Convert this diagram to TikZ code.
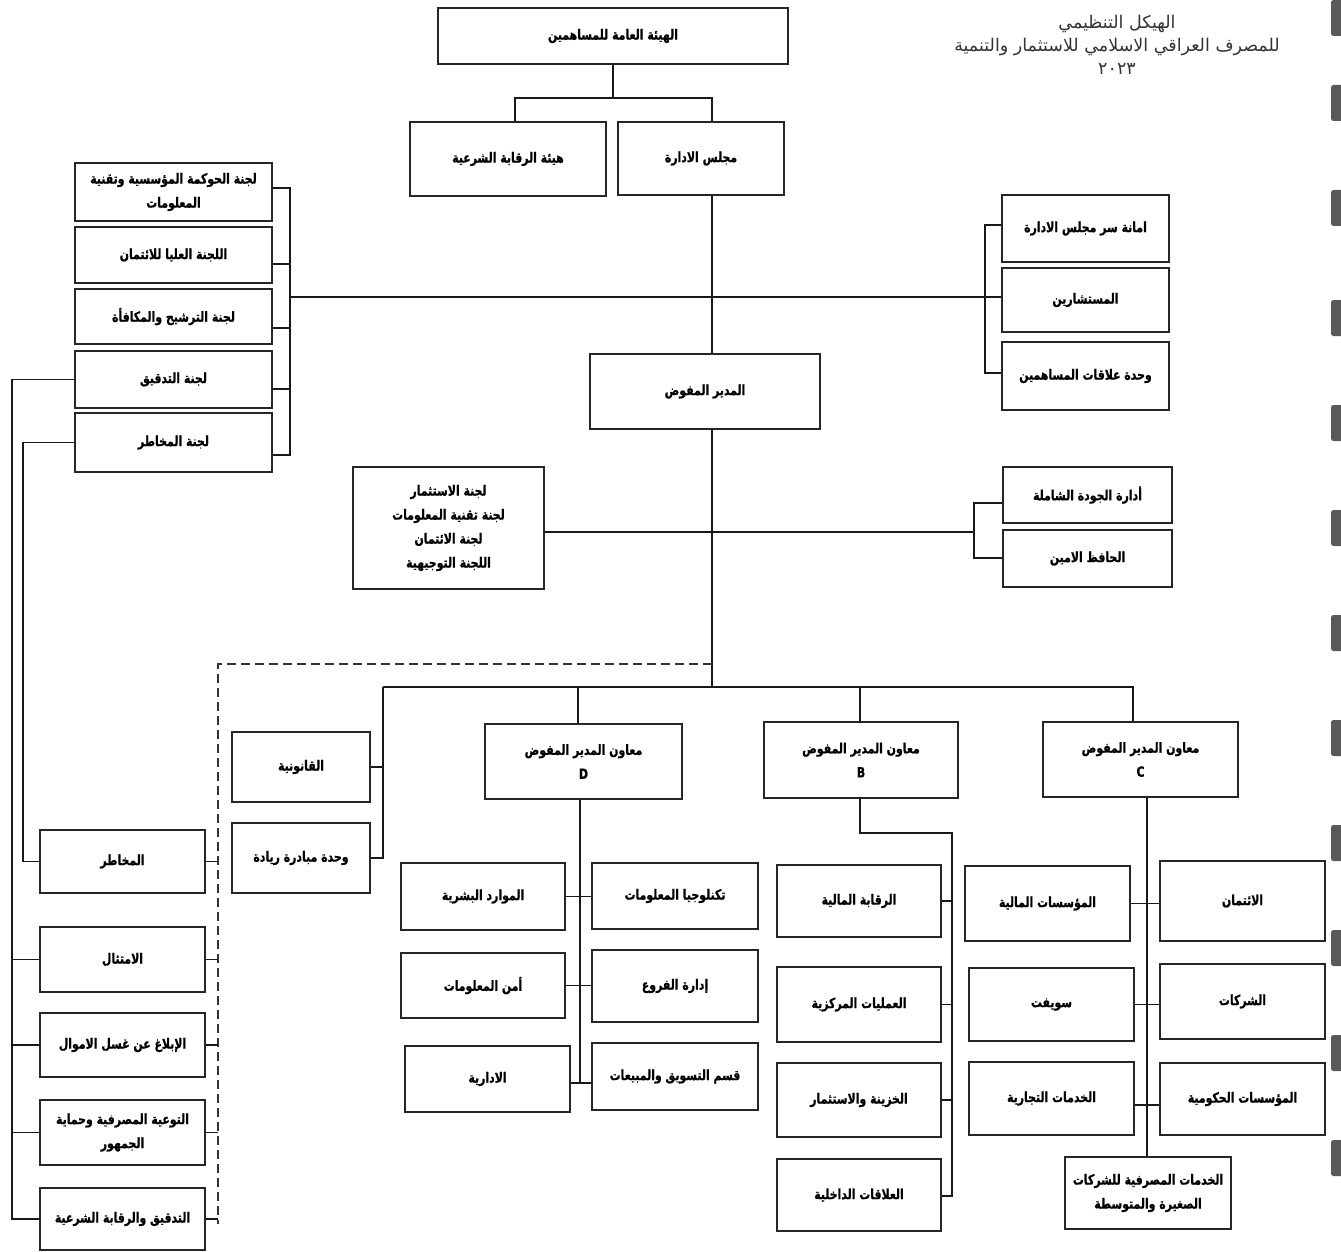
\documentclass[tikz,border=0pt]{standalone}
\usepackage{fontspec}
\newfontfamily\arabicfont[Script=Arabic, FakeStretch=0.78, BoldFeatures={FakeBold=0.8}]{DejaVu Sans}
\newfontfamily\titlefont[Script=Arabic]{DejaVu Sans}
\TeXXeTstate=1
\newcommand\AR[1]{\beginR #1\endR}
\tikzset{
  box/.style={draw=black!85, line width=1.7pt, fill=white, align=center, inner sep=2pt,
              font=\arabicfont\bfseries\fontsize{14}{24}\selectfont},
  wire/.style={draw=black!90, line width=1.4pt},
  dashwire/.style={draw=black!80, line width=1.5pt, dash pattern=on 9pt off 5pt},
  tab/.style={fill=black!65, rounded corners=2.5pt}
}
\newcommand\BX[6]{\node[box, minimum width={(#4)-(#2)}, minimum height={(#5)-(#3)}] (#1) at ({((#2)+(#4))/2},{((#3)+(#5))/2}) {#6};}
\begin{document}
\begin{tikzpicture}[x=1pt,y=-1pt]
\useasboundingbox (0,0) rectangle (1341,1252);
\fill[white] (0,0) rectangle (1341,1252);
% binder tabs at right edge
\foreach \t in {0,85,190,300,405,510,615,720,825,930,1035,1140}
  \fill[tab] (1331,\t) rectangle (1348,\t+36);
% title
\node[font=\titlefont\fontsize{17.5}{23}\selectfont, text=black!80, align=center] (title) at (1117,45)
  {\AR{الهيكل التنظيمي}\\\AR{للمصرف العراقي الاسلامي للاستثمار والتنمية}\\\AR{٢٠٢٣}};
% top
\BX{top}{438}{8}{788}{64}{\AR{الهيئة العامة للمساهمين}}
\BX{shar}{410}{122}{606}{196}{\AR{هيئة الرقابة الشرعية}}
\BX{board}{618}{122}{784}{195}{\AR{مجلس الادارة}}
% left committees
\BX{ca}{75}{163}{272}{221}{\AR{لجنة الحوكمة المؤسسية وتقنية}\\\AR{المعلومات}}
\BX{cb}{75}{227}{272}{283}{\AR{اللجنة العليا للائتمان}}
\BX{cc}{75}{289}{272}{344}{\AR{لجنة الترشيح والمكافأة}}
\BX{cd}{75}{351}{272}{408}{\AR{لجنة التدقيق}}
\BX{ce}{75}{413}{272}{472}{\AR{لجنة المخاطر}}
% right group
\BX{ra}{1002}{195}{1169}{262}{\AR{امانة سر مجلس الادارة}}
\BX{rb}{1002}{268}{1169}{332}{\AR{المستشارين}}
\BX{rc}{1002}{342}{1169}{410}{\AR{وحدة علاقات المساهمين}}
% CEO
\BX{md}{590}{354}{820}{429}{\AR{المدير المفوض}}
\BX{comm}{353}{467}{544}{589}{\AR{لجنة الاستثمار}\\\AR{لجنة تقنية المعلومات}\\\AR{لجنة الائتمان}\\\AR{اللجنة التوجيهية}}
\BX{qual}{1003}{467}{1172}{523}{\AR{أدارة الجودة الشاملة}}
\BX{cust}{1003}{530}{1172}{587}{\AR{الحافظ الامين}}
% deputies
\BX{legal}{232}{732}{370}{802}{\AR{القانونية}}
\BX{vent}{232}{823}{370}{893}{\AR{وحدة مبادرة ريادة}}
\BX{D}{485}{724}{682}{799}{\AR{معاون المدير المفوض}\\D}
\BX{B}{764}{722}{958}{798}{\AR{معاون المدير المفوض}\\B}
\BX{C}{1043}{722}{1238}{797}{\AR{معاون المدير المفوض}\\C}
% D children
\BX{hr}{401}{863}{565}{930}{\AR{الموارد البشرية}}
\BX{it}{592}{863}{758}{929}{\AR{تكنلوجيا المعلومات}}
\BX{sec}{401}{953}{565}{1018}{\AR{أمن المعلومات}}
\BX{br}{592}{950}{758}{1022}{\AR{إدارة الفروع}}
\BX{adm}{405}{1046}{570}{1112}{\AR{الادارية}}
\BX{mkt}{592}{1043}{758}{1110}{\AR{قسم التسويق والمبيعات}}
% B children
\BX{fin}{777}{865}{941}{937}{\AR{الرقابة المالية}}
\BX{ops}{777}{967}{941}{1042}{\AR{العمليات المركزية}}
\BX{trs}{777}{1063}{941}{1137}{\AR{الخزينة والاستثمار}}
\BX{irl}{777}{1159}{941}{1231}{\AR{العلاقات الداخلية}}
% C children
\BX{fi}{965}{866}{1130}{941}{\AR{المؤسسات المالية}}
\BX{sw}{969}{968}{1134}{1041}{\AR{سويفت}}
\BX{tr}{969}{1062}{1134}{1135}{\AR{الخدمات التجارية}}
\BX{cr}{1160}{861}{1325}{941}{\AR{الائتمان}}
\BX{co}{1160}{964}{1325}{1039}{\AR{الشركات}}
\BX{gov}{1160}{1063}{1325}{1135}{\AR{المؤسسات الحكومية}}
\BX{sme}{1065}{1157}{1231}{1229}{\AR{الخدمات المصرفية للشركات}\\\AR{الصغيرة والمتوسطة}}
% left compliance column
\BX{risk}{40}{830}{205}{893}{\AR{المخاطر}}
\BX{cmp}{40}{927}{205}{992}{\AR{الامتثال}}
\BX{aml}{40}{1013}{205}{1077}{\AR{الإبلاغ عن غسل الاموال}}
\BX{awr}{40}{1100}{205}{1165}{\AR{التوعية المصرفية وحماية}\\\AR{الجمهور}}
\BX{sha}{40}{1188}{205}{1250}{\AR{التدقيق والرقابة الشرعية}}
% ---- connectors
\coordinate (j0) at (613,98);
\coordinate (jl) at (515,98);
\coordinate (jr) at (712,98);
\draw[wire] (top.south -| j0) -- (j0);
\draw[wire] (shar.north -| jl) -- (jl) -- (jr) -- (board.north -| jr);
\draw[wire] (board.south -| jr) -- (md.north -| jr);
% board level horizontal
\coordinate (hL) at (290,297);
\coordinate (hR) at (985,297);
\draw[wire] (hL) -- (hR) -- (rb.west |- hR);
\coordinate (lbT) at (290,188);
\coordinate (lbB) at (290,455);
\draw[wire] (ca.east |- lbT) -- (lbT) -- (lbB) -- (ce.east |- lbB);
\draw[wire] (cb.east |- 0,264) -- (290,264);
\draw[wire] (cc.east |- 0,328) -- (290,328);
\draw[wire] (cd.east |- 0,389) -- (290,389);
\coordinate (rbT) at (985,225);
\coordinate (rbB) at (985,373);
\draw[wire] (ra.west |- rbT) -- (rbT) -- (rbB) -- (rc.west |- rbB);
% CEO level
\coordinate (qb) at (974,532);
\draw[wire] (comm.east |- qb) -- (qb);
\coordinate (qT) at (974,503);
\coordinate (qB) at (974,558);
\draw[wire] (qual.west |- qT) -- (qT) -- (qB) -- (cust.west |- qB);
% spine and bus
\coordinate (bus) at (712,687);
\coordinate (busL) at (383,687);
\coordinate (busR) at (1133,687);
\coordinate (bD) at (578,687);
\coordinate (bB) at (860,687);
\draw[wire] (md.south -| jr) -- (bus);
\draw[wire] (busL) -- (busR) -- (C.north -| busR);
\draw[wire] (bD) -- (D.north -| bD);
\draw[wire] (bB) -- (B.north -| bB);
\coordinate (lv) at (383,858);
\draw[wire] (legal.east) -- (legal.east -| busL);
\draw[wire] (busL) -- (lv) -- (vent.east |- lv);
% dashed
\coordinate (dsh) at (712,664);
\coordinate (dc) at (218,664);
\coordinate (db) at (218,1224);
\draw[dashwire] (dsh) -- (dc) -- (db);
\foreach \n in {risk,cmp,aml,awr,sha}
  \draw[wire, line width=1.1pt] (\n.east) -- (\n.east -| dc);
% D children
\coordinate (dv) at (580,1083);
\draw[wire] (D.south -| dv) -- (dv);
\draw[wire] (hr.east) -- (it.west |- hr.east);
\draw[wire] (sec.east) -- (br.west |- sec.east);
\draw[wire] (adm.east |- dv) -- (mkt.west |- dv);
% B children
\coordinate (bk1) at (860,833);
\coordinate (bk2) at (952,833);
\coordinate (bv) at (952,1196);
\draw[wire] (B.south -| bk1) -- (bk1) -- (bk2) -- (bv) -- (irl.east |- bv);
\draw[wire] (fin.east) -- (fin.east -| bv);
\draw[wire] (ops.east) -- (ops.east -| bv);
\draw[wire] (trs.east) -- (trs.east -| bv);
% C children
\coordinate (cv) at (1147,900);
\draw[wire] (C.south -| cv) -- (sme.north -| cv);
\draw[wire] (fi.east) -- (cr.west |- fi.east);
\draw[wire] (sw.east) -- (co.west |- sw.east);
\draw[wire] (tr.east |- 0,1105) -- (gov.west |- 0,1105);
% far left lines
\coordinate (ox) at (12,0);
\coordinate (ix) at (23,0);
\draw[wire] (cd.west) -| (sha.west -| ox) -- (sha.west);
\draw[wire] (cmp.west -| ox) -- (cmp.west);
\draw[wire] (aml.west -| ox) -- (aml.west);
\draw[wire] (awr.west -| ox) -- (awr.west);
\draw[wire] (ce.west) -| (risk.west -| ix) -- (risk.west);
\end{tikzpicture}
\end{document}
